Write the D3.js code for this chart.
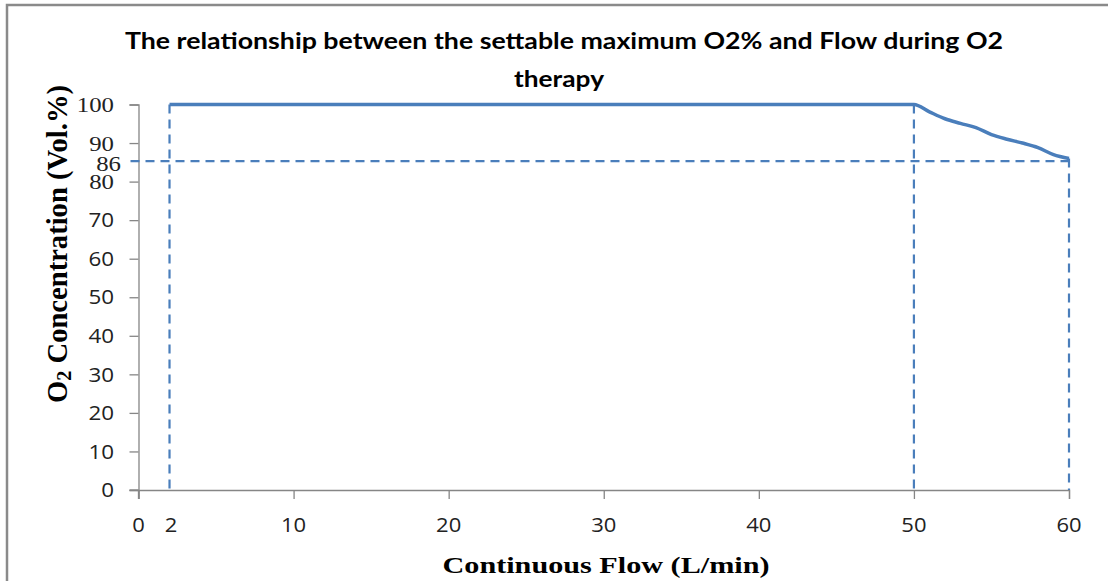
<!DOCTYPE html>
<html><head><meta charset="utf-8">
<script src="https://cdn.jsdelivr.net/npm/d3@7"></script>
<style>body{margin:0;background:#fff}svg{display:block}</style>
</head><body><svg id="c" width="1108" height="581"></svg>
<script>
// ---- data ----
const flow = [2, 50, 51, 52, 53, 54, 55, 56, 57, 58, 59, 60];
const o2   = [100, 100, 98.1, 96.3, 95.1, 94.0, 92.2, 91.0, 90.0, 88.8, 87.0, 86.0];
const yTicks = [0, 10, 20, 30, 40, 50, 60, 70, 80, 90, 100];
const xTicks = [0, 10, 20, 30, 40, 50, 60];
const xExtraLabel = [2];
const yExtraLabel = [86];
const refFlow = [2, 50, 60];     // vertical dashed guides
const refO2 = [85.3];            // horizontal dashed guide
const title = ["The relationship between the settable maximum O2% and Flow during O2", "therapy"];
const xTitle = "Continuous Flow (L/min)";

const svg = d3.select("#c");
svg.append("rect").attr("width",1108).attr("height",581).attr("fill","#fff");
svg.append("rect").attr("x",7).attr("y",5).attr("width",1120).attr("height",600)
  .attr("fill","none").attr("stroke","#8a8a8a").attr("stroke-width",2.5);

const x = d3.scaleLinear().domain([0,60]).range([138.5,1069]);
const y = d3.scaleLinear().domain([0,100]).range([490,104.5]);
const blue = "#4a7ebb", axisC = "#868686";
const sans = "'Open Sans', 'Liberation Sans', sans-serif";
const serif = "'Liberation Serif', 'Times New Roman', serif";

// axes
const gy = svg.append("g").attr("transform",`translate(${x(0)},0)`)
  .call(d3.axisLeft(y).tickValues(yTicks).tickSize(9).tickFormat(""));
const gx = svg.append("g").attr("transform",`translate(0,${y(0)})`)
  .call(d3.axisBottom(x).tickValues(xTicks).tickSize(9).tickFormat(""));
[gy,gx].forEach(g=>{
  g.selectAll("path").attr("stroke",axisC).attr("stroke-width",1.3);
  g.selectAll("line").attr("stroke",axisC).attr("stroke-width",1.3);
});
svg.append("line").attr("x1",x(0)-9).attr("x2",x(0)).attr("y1",y(0)).attr("y2",y(0)).attr("stroke",axisC).attr("stroke-width",1.3);
svg.append("line").attr("x1",x(0)).attr("x2",x(0)).attr("y1",y(0)).attr("y2",y(0)+9).attr("stroke",axisC).attr("stroke-width",1.3);

// tick labels
const serifY = [100, 90, 80];
svg.append("g").selectAll("text").data(yTicks).join("text")
  .attr("transform",d=>`translate(114,${y(d)}) scale(${serifY.includes(d)?1.18:1.12},1)`)
  .attr("dy","0.36em")
  .attr("text-anchor","end").attr("font-size",d=>serifY.includes(d)?21:20)
  .attr("font-family",d=>serifY.includes(d)?serif:sans)
  .attr("fill","#222").text(d=>d);
svg.append("g").selectAll("text").data(yExtraLabel).join("text")
  .attr("transform",d=>`translate(121,${y(d)}) scale(1.18,1)`).attr("dy",13)
  .attr("text-anchor","end").attr("font-size",21).attr("font-family",serif)
  .attr("fill","#222").text(d=>d);
svg.append("g").selectAll("text").data(xTicks).join("text")
  .attr("transform",d=>`translate(${x(d)},532) scale(1.1,1)`).attr("text-anchor","middle")
  .attr("font-size",20).attr("font-family",sans).attr("fill","#222").text(d=>d);
svg.append("g").selectAll("text").data(xExtraLabel).join("text")
  .attr("transform",d=>`translate(${x(d)+1.5},532) scale(1.1,1)`).attr("text-anchor","middle")
  .attr("font-size",20).attr("font-family",sans).attr("fill","#222").text(d=>d);

// dashed guides
const dash = "9,6";
svg.append("g").selectAll("line").data(refFlow).join("line")
  .attr("x1",d=>x(d)).attr("x2",d=>x(d))
  .attr("y1",d=>y(o2[flow.indexOf(d)])).attr("y2",y(0))
  .attr("stroke",blue).attr("stroke-width",2.2).attr("stroke-dasharray",dash);
svg.append("g").selectAll("line").data(refO2).join("line")
  .attr("x1",x(0)-8).attr("x2",x(60)).attr("y1",d=>y(d)).attr("y2",d=>y(d))
  .attr("stroke",blue).attr("stroke-width",2.2).attr("stroke-dasharray",dash);

// curve
const pts = flow.map((f,i)=>[f,o2[i]]);
svg.append("path").datum(pts)
  .attr("d", d3.line().x(d=>x(d[0])).y(d=>y(d[1])).curve(d3.curveMonotoneX))
  .attr("fill","none").attr("stroke",blue).attr("stroke-width",3.5).attr("stroke-linejoin","round");

// titles (source image is horizontally stretched, so widths are fitted)
const titleLen = [878, 90], titleX = [564, 559], titleY = [49, 87];
svg.append("g").selectAll("text").data(title).join("text")
  .attr("x",(d,i)=>titleX[i]).attr("y",(d,i)=>titleY[i]).attr("text-anchor","middle")
  .attr("font-family","Lato, 'Open Sans', sans-serif").attr("font-weight","bold").attr("font-size",22).attr("fill","#000")
  .attr("textLength",(d,i)=>titleLen[i]).attr("lengthAdjust","spacingAndGlyphs").text(d=>d);

svg.append("text").attr("x",606).attr("y",573).attr("text-anchor","middle")
  .attr("font-family",serif).attr("font-weight","bold").attr("font-size",23).attr("fill","#000")
  .attr("textLength",327).attr("lengthAdjust","spacingAndGlyphs").text(xTitle);

const yl = svg.append("text").attr("transform","translate(67,244) scale(1.25,1) rotate(-90)").attr("text-anchor","middle")
  .attr("font-family",serif).attr("font-weight","bold").attr("font-size",24).attr("fill","#000")
  .attr("textLength",318).attr("lengthAdjust","spacingAndGlyphs");
yl.append("tspan").text("O");
yl.append("tspan").attr("font-size",17).attr("dy",3).text("2");
yl.append("tspan").attr("dy",-3).text(" Concentration (Vol.%)");
</script></body></html>
